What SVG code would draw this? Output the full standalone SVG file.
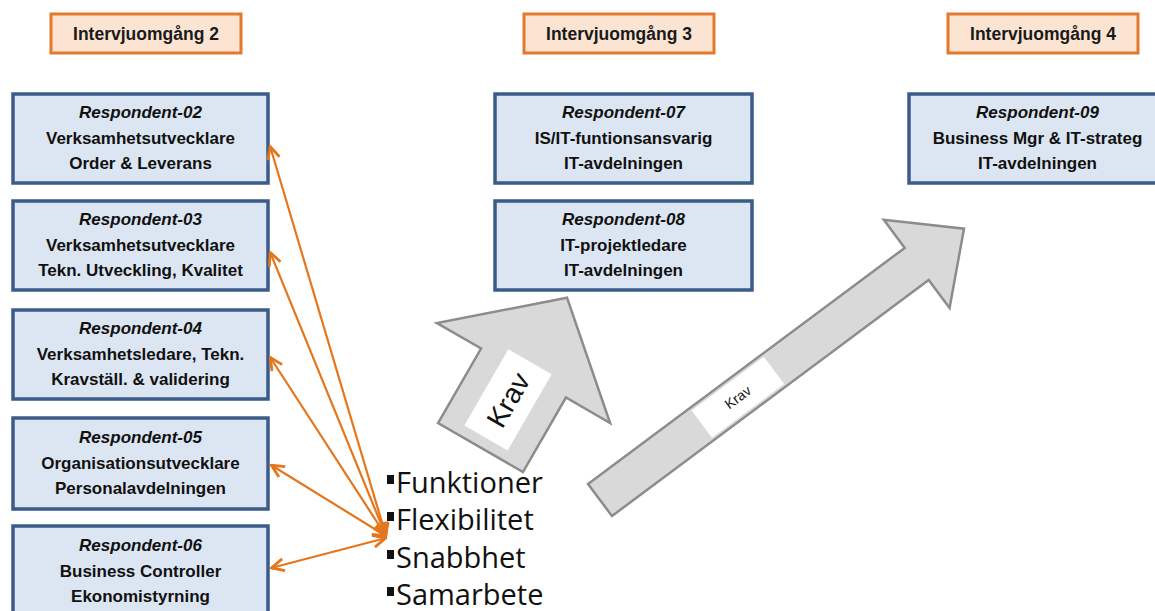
<svg xmlns="http://www.w3.org/2000/svg" width="1155" height="611" viewBox="0 0 1155 611">
  <defs>
    <style>
      .round rect { fill: #FCE4D3; stroke: #E2792C; stroke-width: 3; }
      .round text { font-family: "Liberation Sans", Arial, sans-serif; font-weight: bold; font-size: 17.5px; fill: #1a1a1a; text-anchor: middle; }
      .resp rect { fill: #DCE6F2; stroke: #3B5B88; stroke-width: 3.5; }
      .resp text { font-family: "Liberation Sans", Arial, sans-serif; font-weight: bold; font-size: 17px; fill: #111; text-anchor: middle; }
      .resp text.id { font-style: italic; }
      .link { fill: none; stroke: #E4761C; stroke-width: 2.2; marker-start: url(#head); marker-end: url(#head); }
      .big { fill: #D9D9D9; stroke: #8C8C8C; stroke-width: 2.5; stroke-linejoin: miter; }
      .tag { fill: #FFFFFF; }
      .krav { font-family: "Liberation Sans", Arial, sans-serif; fill: #111; text-anchor: middle; }
      .list text { font-family: "Open Sans", "Liberation Sans", sans-serif; font-size: 29px; fill: #111; }
      .list rect { fill: #111; }
    </style>
    <marker id="head" viewBox="0 0 16 16" refX="15" refY="8" markerWidth="16" markerHeight="16" markerUnits="userSpaceOnUse" orient="auto-start-reverse">
      <path d="M2,2 L14.5,8 L2,14" fill="none" stroke="#E4761C" stroke-width="2.8" stroke-linejoin="miter"/>
    </marker>
  </defs>

  <rect width="1155" height="611" fill="#FFFFFF"/>

  <!-- interview round headers -->
  <g id="round-2" class="round">
    <rect x="51" y="14" width="190" height="39"/>
    <text x="146" y="39.5">Intervjuomgång 2</text>
  </g>
  <g id="round-3" class="round">
    <rect x="524" y="14" width="190" height="39"/>
    <text x="619" y="39.5">Intervjuomgång 3</text>
  </g>
  <g id="round-4" class="round">
    <rect x="948" y="14" width="190" height="39"/>
    <text x="1043" y="39.5">Intervjuomgång 4</text>
  </g>

  <!-- respondents, round 2 -->
  <g id="resp-02" class="resp">
    <rect x="13" y="94" width="255" height="89"/>
    <text class="id" x="140.5" y="118">Respondent-02</text>
    <text x="140.5" y="144">Verksamhetsutvecklare</text>
    <text x="140.5" y="169">Order &amp; Leverans</text>
  </g>
  <g id="resp-03" class="resp">
    <rect x="13" y="201" width="255" height="89"/>
    <text class="id" x="140.5" y="225">Respondent-03</text>
    <text x="140.5" y="251">Verksamhetsutvecklare</text>
    <text x="140.5" y="276">Tekn. Utveckling, Kvalitet</text>
  </g>
  <g id="resp-04" class="resp">
    <rect x="13" y="310" width="255" height="89"/>
    <text class="id" x="140.5" y="334">Respondent-04</text>
    <text x="140.5" y="360">Verksamhetsledare, Tekn.</text>
    <text x="140.5" y="385">Kravställ. &amp; validering</text>
  </g>
  <g id="resp-05" class="resp">
    <rect x="13" y="418" width="255" height="91"/>
    <text class="id" x="140.5" y="443">Respondent-05</text>
    <text x="140.5" y="469">Organisationsutvecklare</text>
    <text x="140.5" y="494">Personalavdelningen</text>
  </g>
  <g id="resp-06" class="resp">
    <rect x="13" y="526" width="255" height="92"/>
    <text class="id" x="140.5" y="551">Respondent-06</text>
    <text x="140.5" y="577">Business Controller</text>
    <text x="140.5" y="602">Ekonomistyrning</text>
  </g>

  <!-- respondents, round 3 -->
  <g id="resp-07" class="resp">
    <rect x="495" y="94" width="257" height="89"/>
    <text class="id" x="623.5" y="118">Respondent-07</text>
    <text x="623.5" y="144">IS/IT-funtionsansvarig</text>
    <text x="623.5" y="169">IT-avdelningen</text>
  </g>
  <g id="resp-08" class="resp">
    <rect x="495" y="201" width="257" height="89"/>
    <text class="id" x="623.5" y="225">Respondent-08</text>
    <text x="623.5" y="251">IT-projektledare</text>
    <text x="623.5" y="276">IT-avdelningen</text>
  </g>

  <!-- respondent, round 4 -->
  <g id="resp-09" class="resp">
    <rect x="909" y="94" width="257" height="89"/>
    <text class="id" x="1037.5" y="118">Respondent-09</text>
    <text x="1037.5" y="144">Business Mgr &amp; IT-strateg</text>
    <text x="1037.5" y="169">IT-avdelningen</text>
  </g>

  <!-- requirement list -->
  <g id="requirements" class="list">
    <rect x="387" y="475" width="7" height="9"/>
    <text x="396" y="493">Funktioner</text>
    <rect x="387" y="512" width="7" height="9"/>
    <text x="396" y="530">Flexibilitet</text>
    <rect x="387" y="550" width="7" height="9"/>
    <text x="396" y="568">Snabbhet</text>
    <rect x="387" y="587" width="7" height="9"/>
    <text x="396" y="605">Samarbete</text>
  </g>

  <!-- connectors -->
  <g id="connectors">
    <line class="link" x1="386" y1="536" x2="270" y2="146"/>
    <line class="link" x1="386" y1="536" x2="270" y2="252"/>
    <line class="link" x1="386" y1="536" x2="270" y2="357"/>
    <line class="link" x1="386" y1="536" x2="271" y2="465"/>
    <line class="link" x1="386" y1="538" x2="271" y2="568"/>

    <!-- short block arrow towards round 3 -->
    <g id="arrow-round-3" transform="translate(480.5,447.5) rotate(-60)">
      <polygon class="big" points="0,-49 86,-49 86,-100 173,0 86,100 86,49 0,49"/>
      <rect class="tag" x="11" y="-25" width="88" height="50"/>
      <text class="krav" x="55" y="10" font-size="28">Krav</text>
    </g>

    <!-- long block arrow towards round 4 -->
    <g id="arrow-round-4" transform="translate(600,500) rotate(-36.7)">
      <polygon class="big" points="0,-20 395,-20 395,-55 454,0 395,55 395,20 0,20"/>
      <rect class="tag" x="127" y="-17" width="90" height="34"/>
      <text class="krav" x="172" y="5" font-size="14">Krav</text>
    </g>
  </g>
</svg>
